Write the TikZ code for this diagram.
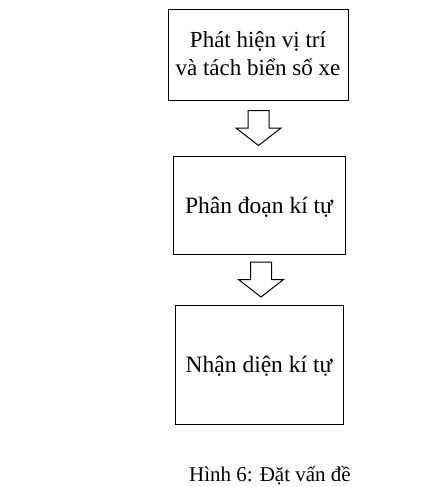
\documentclass[tikz,border=0pt]{standalone}
\usepackage{fontspec}
\setmainfont{Liberation Serif}
\usepackage{tikz}
\usetikzlibrary{calc}

\begin{document}
\begin{tikzpicture}[x=1pt,y=-1pt,
  box/.style={draw,line width=1pt,align=center,inner sep=0pt,text height=16pt,text depth=0pt,
    font=\fontsize{23.5}{28}\selectfont},
  hollowarrow/.style={draw,line width=1pt,fill=white}]
\useasboundingbox (0,0) rectangle (431,487);
\node[box,minimum width=180pt,minimum height=90pt,text height=40pt,font=\fontsize{23}{28}\selectfont] (detect) at (258,55) {Phát hiện vị trí\\và tách biển số xe};
\node[box,minimum width=172pt,minimum height=98pt] (segment) at (259,205) {Phân đoạn kí tự};
\node[box,minimum width=168pt,minimum height=119pt] (recog) at (259,364.5) {Nhận diện kí tự};
\coordinate (a1) at ($(detect.south)!0.5!(segment.north)$);
\coordinate (a2) at ($(segment.south)!0.5!(recog.north)+(2,0)$);
\foreach \c in {a1,a2}
  \draw[hollowarrow] ($(\c)+(-10.5,-17.5)$) -- ($(\c)+(10.5,-17.5)$) -- ($(\c)+(10.5,0)$)
    -- ($(\c)+(22.5,0)$) -- ($(\c)+(0,17.5)$) -- ($(\c)+(-22.5,0)$) -- ($(\c)+(-10.5,0)$) -- cycle;
\node[anchor=base,font=\fontsize{21}{25}\selectfont] (caption) at (270,481) {Hình 6: Đặt vấn đề};
\end{tikzpicture}
\end{document}
